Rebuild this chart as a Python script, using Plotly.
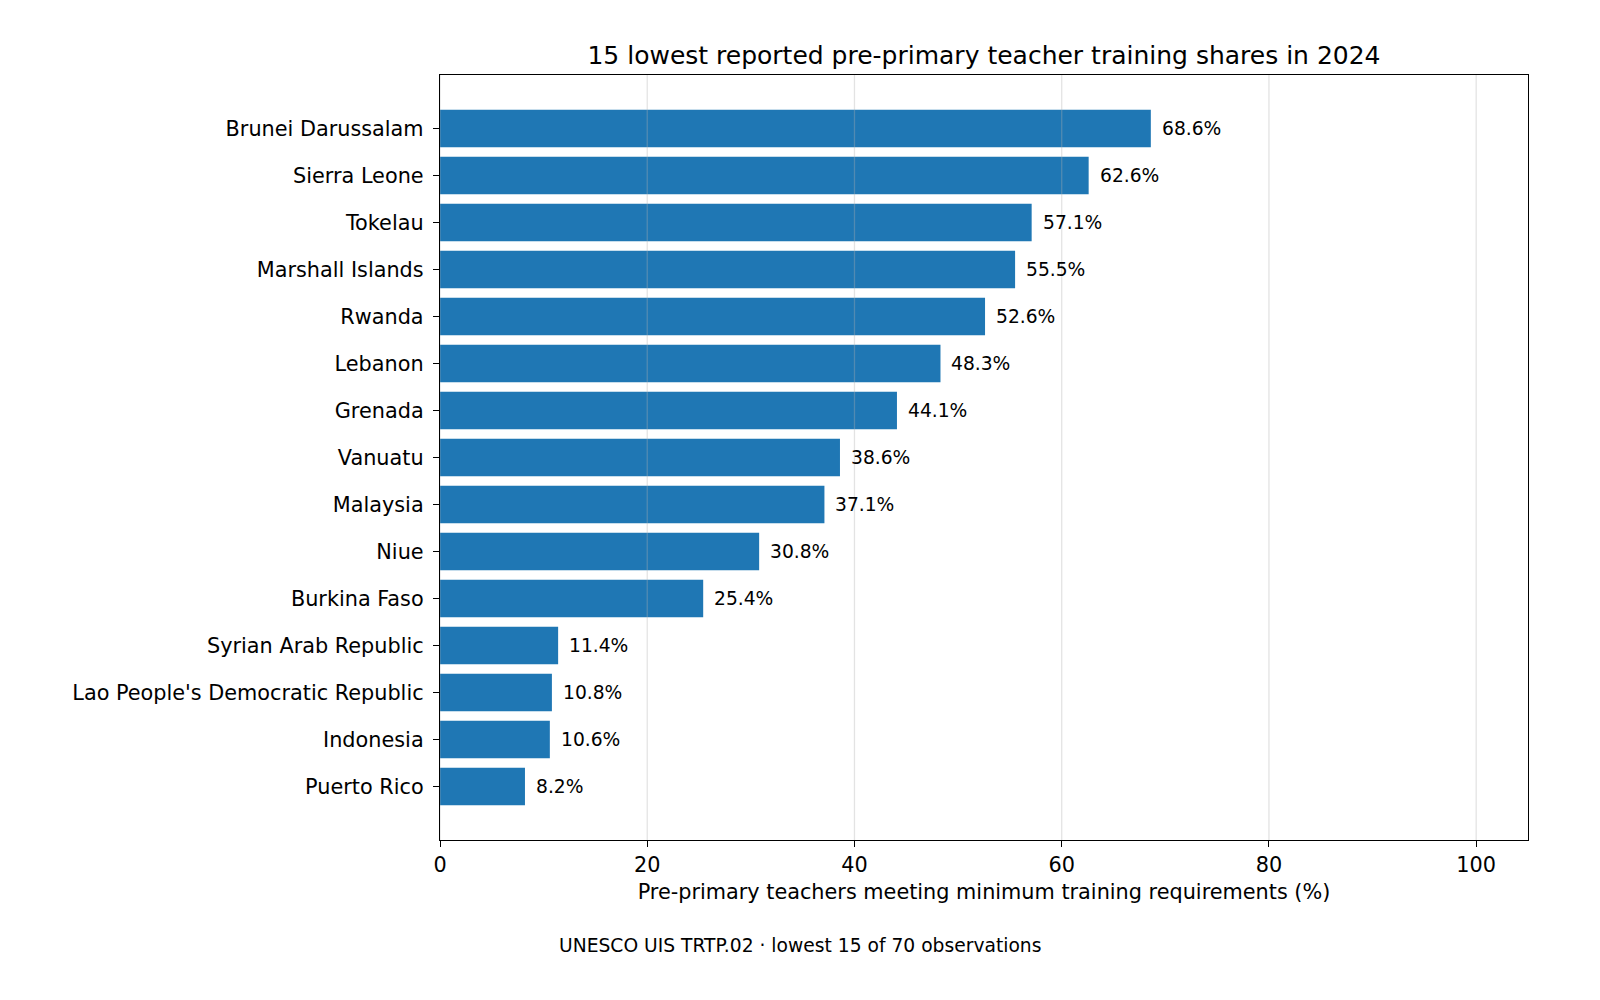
import plotly.graph_objects as go

countries = ["Puerto Rico", "Indonesia", "Lao People's Democratic Republic", "Syrian Arab Republic",
             "Burkina Faso", "Niue", "Malaysia", "Vanuatu", "Grenada", "Lebanon", "Rwanda",
             "Marshall Islands", "Tokelau", "Sierra Leone", "Brunei Darussalam"]
values = [8.2, 10.6, 10.8, 11.4, 25.4, 30.8, 37.1, 38.6, 44.1, 48.3, 52.6, 55.5, 57.1, 62.6, 68.6]
xticks = [0, 20, 40, 60, 80, 100]

font = "DejaVu Sans"
OFF = 8  # page body margin
L, R, T, B = 440 - OFF, 1528 - OFF, 75 - OFF, 840 - OFF
W, H = 1600 - 2 * OFF, 1000 - 2 * OFF

fig = go.Figure()
fig.add_trace(go.Bar(x=values, y=countries, orientation="h", marker_color="#1f77b4",
                     marker_line_width=0, width=0.8))

for c, v in zip(countries, values):
    fig.add_annotation(x=v, y=c, text=f"{v:.1f}%", showarrow=False, xanchor="left",
                       xshift=9, font=dict(size=18.7, color="black", family=font))

# grid lines drawn on top of the bars (as in the reference)
for t in xticks:
    fig.add_shape(type="line", x0=t, x1=t, xref="x", y0=0, y1=1, yref="paper",
                  line=dict(color="rgba(176,176,176,0.35)", width=1.3), layer="above")

fig.add_annotation(text="UNESCO UIS TRTP.02 · lowest 15 of 70 observations", xref="paper", yref="paper",
                   x=(800 - OFF - L) / (R - L), y=-(945 - OFF - B) / (B - T), showarrow=False,
                   font=dict(size=18.7, color="black", family=font), xanchor="center", yanchor="middle")

fig.update_layout(
    width=W, height=H,
    plot_bgcolor="white", paper_bgcolor="white",
    margin=dict(l=L, r=W - R, t=T, b=H - B),
    font=dict(family=font, size=20.8, color="black"),
    title=dict(text="15 lowest reported pre-primary teacher training shares in 2024",
               x=(L + R) / 2 / W, xanchor="center", y=1 - (55 - OFF) / H, yanchor="middle",
               font=dict(size=25, family=font, color="black")),
    showlegend=False,
)
fig.update_xaxes(range=[0, 105], tickvals=xticks, ticks="outside", ticklen=6, tickwidth=1.3, tickcolor="black",
                 showline=True, linecolor="black", linewidth=1.4, mirror=True,
                 showgrid=False, zeroline=False,
                 tickfont=dict(size=20.8),
                 title=dict(text="Pre-primary teachers meeting minimum training requirements (%)",
                            font=dict(size=20.8), standoff=8))
fig.update_yaxes(range=[-1.14, 15.14], ticks="outside", ticklen=6, tickwidth=1.3, tickcolor="black",
                 showline=True, linecolor="black", linewidth=1.4, mirror=True,
                 showgrid=False, tickfont=dict(size=20.8), ticklabelstandoff=5,
                 categoryorder="array", categoryarray=countries)

fig.write_html("out.html")
